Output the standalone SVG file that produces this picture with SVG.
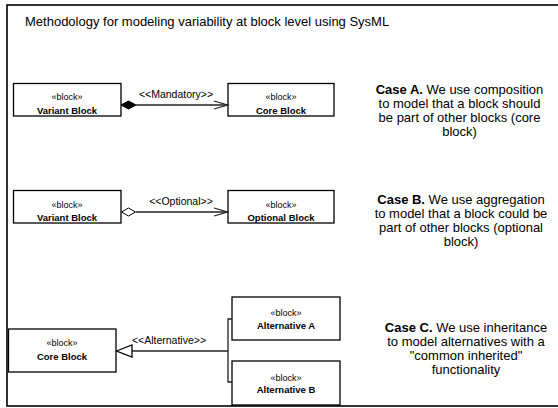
<svg xmlns="http://www.w3.org/2000/svg" width="558" height="408" viewBox="0 0 558 408">
<style>
text{font-family:"Liberation Sans",Arial,sans-serif;fill:#000}
.box{fill:#fff;stroke:#000;stroke-width:1.3}
.st{font-size:9px;text-anchor:middle}
.nm{font-size:9.5px;font-weight:bold;text-anchor:middle}
.lbl{font-size:10.5px;text-anchor:middle}
.case{font-size:13px;text-anchor:middle}
.ln{fill:none;stroke:#222;stroke-width:1.3}
</style>
<rect width="558" height="408" fill="#fff"/>
<rect x="7" y="5" width="560" height="401" fill="none" stroke="#000" stroke-width="1.6"/>
<text x="25" y="25.5" font-size="13">Methodology for modeling variability at block level using SysML</text>

<g id="caseA-variant"><rect class="box" x="13.5" y="83.5" width="107.5" height="32.5"/><text class="st" x="67" y="100">«block»</text><text class="nm" x="67" y="113.5">Variant Block</text></g>
<g id="caseA-core"><rect class="box" x="228" y="83.5" width="106" height="32.5"/><text class="st" x="281" y="100">«block»</text><text class="nm" x="281" y="113.5">Core Block</text></g>

<g id="caseB-variant"><rect class="box" x="13.5" y="190.5" width="107.5" height="32.5"/><text class="st" x="67" y="208">«block»</text><text class="nm" x="67" y="221">Variant Block</text></g>
<g id="caseB-optional"><rect class="box" x="228" y="190.5" width="106" height="32.5"/><text class="st" x="281" y="208">«block»</text><text class="nm" x="281" y="221">Optional Block</text></g>

<g id="caseC-core"><rect class="box" x="8.5" y="329" width="107.5" height="43"/><text class="st" x="62" y="346">«block»</text><text class="nm" x="62" y="360">Core Block</text></g>
<g id="caseC-altA"><rect class="box" x="232" y="297" width="108" height="43"/><text class="st" x="286" y="316">«block»</text><text class="nm" x="286" y="328.5">Alternative A</text></g>
<g id="caseC-altB"><rect class="box" x="232" y="361" width="108" height="44"/><text class="st" x="286" y="381">«block»</text><text class="nm" x="286" y="392.5">Alternative B</text></g>

<g id="connectors">
<g id="mandatory">
<line class="ln" x1="136" y1="105" x2="227.5" y2="105"/>
<polygon points="121,105 128.5,101 136,105 128.5,109" fill="#000" stroke="#000" stroke-width="1"/>
<polyline class="ln" points="214,101 227.5,105 214,109"/>
<text class="lbl" x="176" y="98">&lt;&lt;Mandatory&gt;&gt;</text>
</g>
<g id="optional">
<line class="ln" x1="136" y1="212" x2="227.5" y2="212"/>
<polygon points="121.5,212 128.5,208 135.5,212 128.5,216" fill="#fff" stroke="#000" stroke-width="1"/>
<polyline class="ln" points="214,208 227.5,212 214,216"/>
<text class="lbl" x="181" y="204.5">&lt;&lt;Optional&gt;&gt;</text>
</g>
<g id="alternative">
<polyline class="ln" points="232,319 228,319 228,382 232,382"/>
<line class="ln" x1="132" y1="351" x2="228" y2="351"/>
<polygon points="116.5,351 132,345 132,357" fill="#fff" stroke="#000" stroke-width="1.3"/>
<text class="lbl" x="169" y="344">&lt;&lt;Alternative&gt;&gt;</text>
</g>
</g>

<g id="caseA-text">
<text class="case" x="459.5" y="94"><tspan font-weight="bold">Case A.</tspan> We use composition</text>
<text class="case" x="459.5" y="108">to model that a block should</text>
<text class="case" x="459.5" y="122">be part of other blocks (core</text>
<text class="case" x="459.5" y="136">block)</text>
</g>
<g id="caseB-text">
<text class="case" x="461" y="204">
<tspan font-weight="bold">Case B.</tspan> We use aggregation</text>
<text class="case" x="461" y="218">to model that a block could be</text>
<text class="case" x="461" y="232">part of other blocks (optional</text>
<text class="case" x="461" y="246">block)</text>
</g>
<g id="caseC-text">
<text class="case" x="466" y="332"><tspan font-weight="bold">Case C.</tspan> We use inheritance</text>
<text class="case" x="466" y="346">to model alternatives with a</text>
<text class="case" x="466" y="360">"common inherited"</text>
<text class="case" x="466" y="374">functionality</text>
</g>
</svg>
